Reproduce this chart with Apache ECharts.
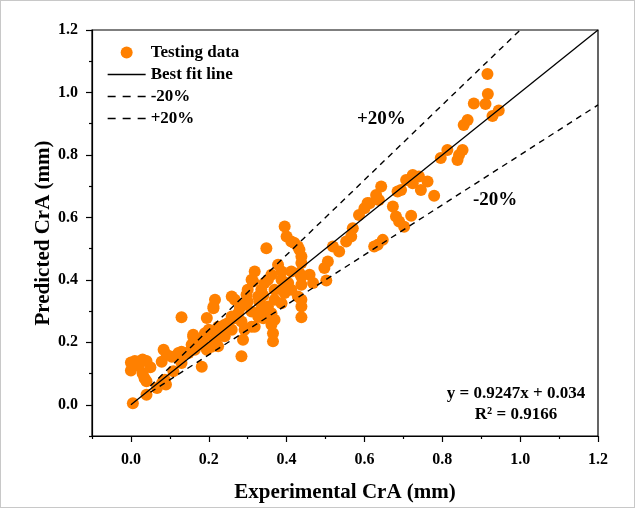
<!DOCTYPE html>
<html>
<head>
<meta charset="utf-8">
<script src="https://cdn.jsdelivr.net/npm/echarts@6/dist/echarts.min.js"></script>
<style>
  html, body { margin: 0; padding: 0; background: #fff; }
  #main { width: 633px; height: 506px; border: 1px solid #c8c8c8; }
</style>
</head>
<body>
<div id="main"></div>
<script>
// testing data (experimental, predicted) in mm
var testingData = [
  [0.005,0.005],
  [0.0,0.135],[0.01,0.14],[0.02,0.125],[0.03,0.145],[0.04,0.14],[0.05,0.12],[0.0,0.11],[0.03,0.1],[0.035,0.085],[0.04,0.075],
  [0.04,0.032],[0.067,0.054],[0.08,0.07],[0.09,0.065],[0.087,0.08],[0.109,0.107],
  [0.079,0.138],[0.084,0.176],[0.092,0.16],[0.105,0.154],[0.122,0.166],[0.126,0.144],[0.13,0.28],[0.148,0.166],
  [0.16,0.218],[0.156,0.192],[0.182,0.122],[0.195,0.278],[0.212,0.314],[0.19,0.218],[0.207,0.186],[0.13,0.17],
  [0.143,0.166],[0.164,0.176],[0.13,0.134],[0.16,0.224],[0.19,0.229],[0.195,0.176],[0.19,0.187],[0.182,0.208],
  [0.17,0.2],[0.2,0.24],[0.22,0.23],[0.23,0.22],
  [0.216,0.336],[0.212,0.309],[0.259,0.347],[0.267,0.336],[0.215,0.208],[0.224,0.187],[0.241,0.256],[0.241,0.219],
  [0.224,0.25],[0.259,0.24],[0.267,0.277],[0.284,0.267],[0.288,0.208],[0.284,0.155],[0.297,0.352],[0.31,0.299],
  [0.318,0.25],[0.34,0.277],[0.361,0.293],[0.361,0.256],[0.365,0.229],[0.365,0.203],[0.335,0.368],[0.369,0.368],
  [0.387,0.325],[0.314,0.395],[0.352,0.4],[0.25,0.262],[0.233,0.25],[0.259,0.283],[0.276,0.294],[0.292,0.24],
  [0.31,0.25],[0.327,0.283],[0.369,0.272],[0.352,0.315],[0.369,0.336],[0.387,0.368],[0.3,0.368],[0.31,0.4],
  [0.318,0.427],[0.343,0.39],[0.327,0.347],[0.335,0.304],[0.28,0.31],[0.3,0.33],[0.29,0.32],[0.33,0.33],[0.34,0.35],
  [0.395,0.571],[0.4,0.539],[0.412,0.523],[0.42,0.518],[0.429,0.507],[0.433,0.496],[0.438,0.475],[0.438,0.454],
  [0.348,0.501],[0.378,0.448],[0.387,0.427],[0.412,0.427],[0.433,0.422],[0.438,0.41],[0.459,0.416],[0.468,0.39],
  [0.438,0.384],[0.412,0.368],[0.395,0.358],[0.404,0.39],[0.387,0.4],[0.361,0.416],[0.429,0.347],[0.438,0.336],
  [0.438,0.315],[0.438,0.28],[0.497,0.438],[0.506,0.459],[0.502,0.398],
  [0.519,0.507],[0.535,0.491],[0.553,0.523],[0.566,0.539],[0.57,0.565],[0.586,0.608],[0.6,0.629],[0.613,0.645],
  [0.637,0.656],[0.634,0.512],[0.625,0.507],[0.647,0.528],
  [0.608,0.646],[0.63,0.672],[0.643,0.699],[0.673,0.635],[0.681,0.603],[0.689,0.587],[0.702,0.57],[0.72,0.605],
  [0.685,0.683],[0.694,0.688],[0.707,0.72],[0.724,0.736],[0.74,0.731],[0.724,0.709],[0.745,0.688],[0.762,0.715],
  [0.779,0.669],
  [0.796,0.79],[0.813,0.816],[0.839,0.784],[0.843,0.8],[0.852,0.816],[0.855,0.896],[0.865,0.912],[0.881,0.965],
  [0.911,0.963],[0.917,0.995],[0.916,1.059],[0.929,0.925],[0.945,0.942]
];
var bestFitLine = [[0, 0], [1.2, 1.2]];
var minus20Line = [[0.05, 0.04], [1.2, 0.96]];
var plus20Line = [[0.05, 0.06], [1.0, 1.2]];
var majorTicks = [0, 0.2, 0.4, 0.6, 0.8, 1.0, 1.2];
var minorTicks = [-0.1, 0.1, 0.3, 0.5, 0.7, 0.9, 1.1];
var equationText = 'y = 0.9247x + 0.034';
var r2Text = 'R² = 0.9166';

var font = '"Liberation Serif", "Times New Roman", serif';
var black = '#000';

function fmt(v) { return (+v).toFixed(1); }

function majorAxis(name, gap, pos) {
  return {
    type: 'value', min: -0.1, max: 1.2, position: pos,
    name: name, nameLocation: 'middle', nameGap: gap, nameMoveOverlap: false,
    nameTextStyle: { fontFamily: font, fontWeight: 'bold', fontSize: 21, color: black },
    axisLine: { show: true, onZero: false, lineStyle: { color: black, width: 1.2 } },
    axisTick: { show: true, length: 6, customValues: majorTicks, lineStyle: { color: black, width: 1.2 } },
    splitLine: { show: false },
    axisLabel: {
      fontFamily: font, fontWeight: 'bold', fontSize: 16, color: black, margin: pos == 'bottom' ? 16 : 14,
      customValues: majorTicks, formatter: fmt
    }
  };
}
function minorAxis(pos) {
  return {
    type: 'value', min: -0.1, max: 1.2, position: pos,
    axisLine: { show: false, onZero: false },
    axisTick: { show: true, length: 3, customValues: minorTicks, lineStyle: { color: black, width: 1.2 } },
    axisLabel: { show: false },
    splitLine: { show: false }
  };
}

var dashLegend = { color: black, width: 1.3, type: [8, 7], opacity: 1 };

var chart = echarts.init(document.getElementById('main'));

var option = {
  animation: false,
  grid: {
    left: 91, right: 36, top: 29, bottom: 71,
    outerBoundsMode: 'none', containLabel: false,
    show: true, borderColor: black, borderWidth: 1.2
  },
  legend: {
    orient: 'vertical',
    left: 101, top: 38,
    itemWidth: 38, itemHeight: 12, itemGap: 5,
    textStyle: { fontFamily: font, fontWeight: 'bold', fontSize: 17, color: black },
    data: [
      { name: 'Testing data' },
      { name: 'Best fit line', itemStyle: { opacity: 0 }, lineStyle: { color: black, width: 1.3, opacity: 1 } },
      { name: '-20%', itemStyle: { opacity: 0 }, lineStyle: dashLegend },
      { name: '+20%', itemStyle: { opacity: 0 }, lineStyle: dashLegend }
    ]
  },
  xAxis: [majorAxis('Experimental CrA (mm)', 46, 'bottom'), minorAxis('bottom')],
  yAxis: [majorAxis('Predicted CrA (mm)', 38, 'left'), minorAxis('left')],
  series: [
    {
      name: 'Testing data', type: 'scatter', data: testingData,
      symbol: 'circle', symbolSize: 12, z: 2,
      itemStyle: { color: '#FF8000', opacity: 1 }
    },
    {
      name: 'Best fit line', type: 'line', data: bestFitLine,
      symbol: 'none', z: 3,
      itemStyle: { color: black },
      lineStyle: { color: black, width: 1.3 }
    },
    {
      name: '-20%', type: 'line', data: minus20Line,
      symbol: 'none', z: 3,
      itemStyle: { color: black },
      lineStyle: { color: black, width: 1.4, type: [6, 5] }
    },
    {
      name: '+20%', type: 'line', data: plus20Line,
      symbol: 'none', z: 3,
      itemStyle: { color: black },
      lineStyle: { color: black, width: 1.4, type: [6, 5] }
    }
  ],
  graphic: [
    { type: 'text', left: 356, top: 109,
      style: { text: '+20%', fontFamily: font, fontWeight: 'bold', fontSize: 19, fill: black } },
    { type: 'text', left: 472, top: 190,
      style: { text: '-20%', fontFamily: font, fontWeight: 'bold', fontSize: 19, fill: black } },
    { type: 'text', x: 515, y: 393,
      style: { text: equationText, fontFamily: font, fontWeight: 'bold', fontSize: 17, fill: black,
        align: 'center', verticalAlign: 'middle' } },
    { type: 'text', x: 515, y: 414,
      style: { text: r2Text, fontFamily: font, fontWeight: 'bold', fontSize: 17, fill: black,
        align: 'center', verticalAlign: 'middle' } }
  ]
};

chart.setOption(option);
</script>
</body>
</html>
